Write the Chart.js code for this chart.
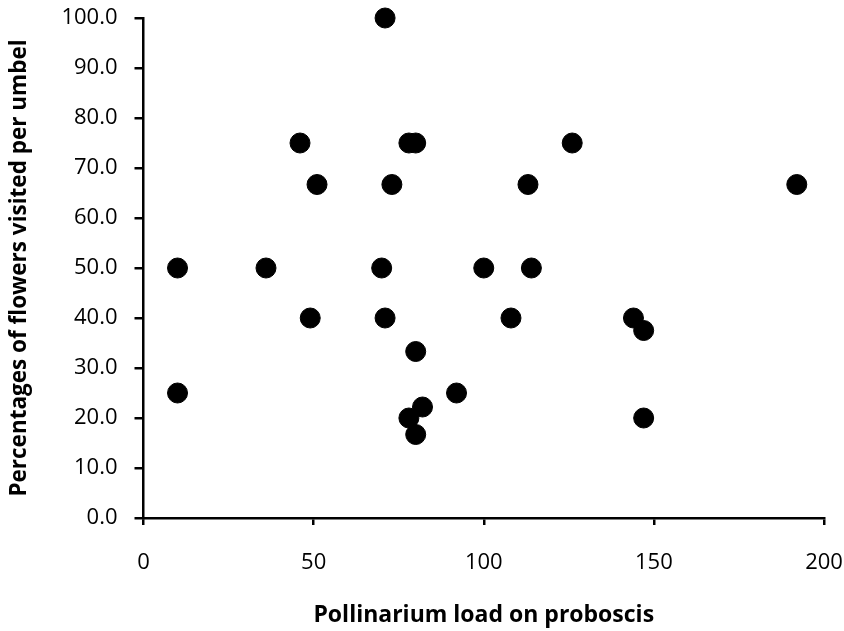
<!DOCTYPE html>
<html>
<head>
<meta charset="utf-8">
<script src="https://cdn.jsdelivr.net/npm/chart.js@4"></script>
<style>
  body { margin: 0; background: #fff; }
</style>
</head>
<body>
<canvas id="loadChart" width="844" height="631"></canvas>
<script>
  // pollinarium load (x) vs % of flowers visited per umbel (y)
  const pollinariumLoad = [10, 10, 36, 46, 49, 51, 70, 71, 71, 73, 78, 80, 80, 78, 80, 82, 92, 100, 108, 113, 114, 126, 144, 147, 147, 192];
  const flowersVisited = [50, 25, 50, 75, 40, 66.7, 50, 100, 40, 66.7, 75, 75, 33.3, 20, 16.7, 22.2, 25, 50, 40, 66.7, 50, 75, 40, 37.5, 20, 66.7];
  const xTicks = [0, 50, 100, 150, 200];
  const yTicks = [0, 10, 20, 30, 40, 50, 60, 70, 80, 90, 100];

  const font = 'Open Sans';

  // keep the plot box fixed: no extra room for label overhang
  const noOverhang = s => {
    s.paddingTop = 0;
    s.paddingBottom = 0;
    s.paddingLeft = 0;
    s.paddingRight = 0;
  };

  new Chart(document.getElementById('loadChart'), {
    type: 'scatter',
    data: {
      datasets: [{
        data: pollinariumLoad.map((x, i) => ({ x: x, y: flowersVisited[i] })),
        backgroundColor: '#000',
        borderColor: '#000',
        pointRadius: 10,
        pointHoverRadius: 10,
        clip: false
      }]
    },
    options: {
      responsive: false,
      animation: false,
      layout: { autoPadding: false, padding: { top: 18, right: 20, bottom: 0, left: 0 } },
      plugins: {
        legend: { display: false },
        tooltip: { enabled: false }
      },
      scales: {
        x: {
          type: 'linear',
          min: 0,
          max: 200,
          afterBuildTicks: s => { s.ticks = xTicks.map(v => ({ value: v })); },
          afterFit: s => { s.height = 113; noOverhang(s); },
          border: { color: '#000', width: 2.5 },
          grid: { drawOnChartArea: false, color: '#000', lineWidth: 2.5, tickLength: 7 },
          ticks: {
            color: '#000',
            padding: 25,
            maxRotation: 0,
            font: { family: font, size: 22 }
          },
          title: {
            display: true,
            text: 'Pollinarium load on proboscis',
            color: '#000',
            padding: { top: 0, bottom: 2 },
            font: { family: font, size: 23, weight: 'bold' }
          }
        },
        y: {
          type: 'linear',
          min: 0,
          max: 100,
          afterBuildTicks: s => { s.ticks = yTicks.map(v => ({ value: v })); },
          afterFit: s => { s.width = 143.5; noOverhang(s); },
          border: { color: '#000', width: 2.5 },
          grid: { drawOnChartArea: false, color: '#000', lineWidth: 2.5, tickLength: 9 },
          ticks: {
            color: '#000',
            padding: 17,
            callback: v => v.toFixed(1),
            font: { family: font, size: 22 }
          },
          title: {
            display: true,
            text: 'Percentages of flowers visited per umbel',
            color: '#000',
            padding: { top: 6, bottom: 0 },
            font: { family: font, size: 22.5, weight: 'bold' }
          }
        }
      }
    }
  });
</script>
</body>
</html>
